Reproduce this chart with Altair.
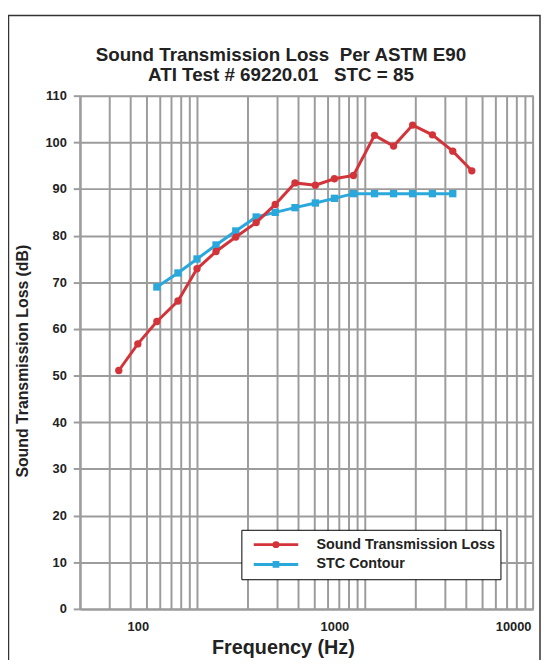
import altair as alt
import pandas as pd
import numpy as np

# ---- data ----
stl_freq = [80, 100, 125, 160, 200, 250, 315, 400, 500, 630, 800, 1000,
            1250, 1600, 2000, 2500, 3150, 4000, 5000]
stl_db = [51.1, 56.8, 61.6, 66.0, 72.9, 76.6, 79.7, 82.8, 86.7, 91.3, 90.8,
          92.2, 92.9, 101.5, 99.2, 103.7, 101.6, 98.1, 93.9]
stc_freq = [125, 160, 200, 250, 315, 400, 500, 630, 800, 1000, 1250, 1600,
            2000, 2500, 3150, 4000]
stc_db = [69, 72, 75, 78, 81, 84, 85, 86, 87, 88, 89, 89, 89, 89, 89, 89]
series_names = ["Sound Transmission Loss", "STC Contour"]
x_tick_values = [100, 1000, 10000]
y_tick_values = list(range(0, 111, 10))
# log-paper grid (paper units 2 .. 1000) stretched over the frequency axis
paper_lines = [m * d for d in (1, 10, 100) for m in range(2, 10)] + [10, 100, 1000]

NB = "\u00a0"
title_lines = ["Sound Transmission Loss " + NB + "Per ASTM E90",
               "ATI Test # 69220.01 " + NB + NB + "STC = 85"]

# ---- styling ----
FONT = "Liberation Sans"
RED = "#d3343a"
BLUE = "#2aa8dc"
GRID = "#9c9c9c"
TXT = "#222222"
W, H = 458, 519
FMIN, FMAX = 50.9, 10250.0

df = pd.concat([
    pd.DataFrame({"freq": stl_freq, "db": stl_db, "series": series_names[0]}),
    pd.DataFrame({"freq": stc_freq, "db": stc_db, "series": series_names[1]}),
])
grid_df = pd.DataFrame({
    "f": [FMIN * (FMAX / FMIN) ** (np.log10(u / 2) / np.log10(500)) for u in paper_lines]
})

xscale = alt.Scale(type="log", domain=[FMIN, FMAX], nice=False)
yscale = alt.Scale(domain=[0, 110], nice=False, zero=False)

xaxis = alt.Axis(values=x_tick_values, format="d", grid=False, ticks=False,
                 domainColor=GRID, domainWidth=2, labelPadding=12,
                 labelFont=FONT, labelFontSize=13, labelFontWeight="bold", labelColor=TXT,
                 labelAlign=alt.expr("datum.value == 10000 ? 'right' : 'center'"),
                 title="Frequency (Hz)", titleFont=FONT, titleFontSize=20,
                 titleFontWeight="bold", titleColor=TXT, titleX=205, titleY=39,
                 titleBaseline="middle")
yaxis = alt.Axis(values=y_tick_values, grid=True, gridColor=GRID, gridWidth=2,
                 gridOpacity=1, domainColor=GRID, domainWidth=2, tickColor=GRID,
                 tickWidth=2, tickSize=7, labelPadding=7,
                 labelFont=FONT, labelFontSize=13, labelFontWeight="bold", labelColor=TXT,
                 title="Sound Transmission Loss (dB)", titleFont=FONT, titleFontSize=16,
                 titleFontWeight="bold", titleColor=TXT, titleX=-58, titleY=268,
                 titleBaseline="middle")

X = alt.X("freq:Q", scale=xscale, axis=xaxis)
Y = alt.Y("db:Q", scale=yscale, axis=yaxis)

color_scale = alt.Scale(domain=series_names, range=[RED, BLUE])
LEG_SHAPES = [
    "M-1,0H1M-0.09,0A0.09,0.09,0,1,1,0.09,0A0.09,0.09,0,1,1,-0.09,0Z",
    "M-1,0H1M-0.085,-0.085H0.085V0.085H-0.085Z",
]

grid = alt.Chart(grid_df).mark_rule(color=GRID, strokeWidth=2).encode(
    x=alt.X("f:Q", scale=xscale, axis=xaxis)
)

frame = alt.Chart(pd.DataFrame({"k": [0]})).mark_rect(
    fillOpacity=0, stroke="#333333", strokeWidth=1.5
).encode(x=alt.value(-72.5), x2=alt.value(465), y=alt.value(-81), y2=alt.value(700))


def series_layers(name, shape):
    sub = df[df["series"] == name]
    col = RED if shape == "circle" else BLUE
    line = alt.Chart(sub).mark_line(strokeWidth=3, color=col).encode(
        x=X, y=Y, order=alt.Order("freq:Q")
    )
    pts = alt.Chart(sub).mark_point(filled=True, size=55, opacity=1, shape=shape,
                                    color=col).encode(x=X, y=Y)
    return line, pts


stc_line, stc_pts = series_layers(series_names[1], "square")
stl_line, stl_pts = series_layers(series_names[0], "circle")

legend = alt.Legend(title=None, orient="none", legendX=163, legendY=439,
                    fillColor="white", strokeColor="black", padding=5,
                    clipHeight=20, rowPadding=0, symbolSize=2025, symbolStrokeWidth=3,
                    symbolOffset=6, labelOffset=17, labelFont=FONT, labelFontSize=14.5,
                    labelFontWeight="bold", labelColor=TXT, labelLimit=400)
legend_layer = alt.Chart(df).mark_point(filled=False, strokeWidth=3, opacity=1, clip=True).encode(
    x=X, y=alt.value(H + 200),
    color=alt.Color("series:N", scale=color_scale, legend=legend),
    fill=alt.Fill("series:N", scale=alt.Scale(domain=series_names, range=[RED, BLUE]), legend=legend),
    shape=alt.Shape("series:N", scale=alt.Scale(domain=series_names, range=LEG_SHAPES), legend=legend),
)

chart = alt.layer(frame, grid, legend_layer, stc_line, stc_pts, stl_line, stl_pts).properties(
    width=W, height=H,
    title=alt.TitleParams(text=title_lines, anchor="middle", frame="group", dx=-26,
                          offset=-71, font=FONT, fontSize=19, fontWeight="bold",
                          color=TXT, lineHeight=20),
    autosize=alt.AutoSizeParams(type="none"),
    padding={"left": 73, "top": 85, "right": 8, "bottom": 48},
).configure_view(stroke=GRID, strokeWidth=2).configure(background="white")

chart.save("out.html", embed_options={"renderer": "svg", "actions": False})
